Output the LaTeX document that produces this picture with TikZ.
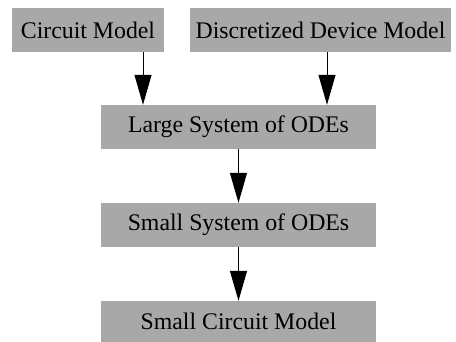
\documentclass[tikz,border=0pt]{standalone}
\usepackage{fontspec}
\setmainfont{Liberation Serif}
\usetikzlibrary{arrows.meta}
\definecolor{boxgray}{HTML}{A8A8A8}
\begin{document}
\begin{tikzpicture}[x=1pt,y=-1pt,
  stage/.style={rectangle, fill=boxgray, inner sep=0pt, minimum height=44pt,
    font=\fontsize{23.8}{26}\selectfont},
  flow/.style={line width=1pt, -{Triangle[length=30pt,width=17pt]}}]
  \useasboundingbox (0,0) rectangle (456,342);

  \node[stage, minimum width=152pt] (cm)  at (88,30)    {Circuit Model};
  \node[stage, minimum width=261pt] (ddm) at (320.5,30) {Discretized Device Model};
  \node[stage, minimum width=275pt] (lsys) at (238.5,127) {Large System of ODEs};
  \node[stage, minimum width=275pt] (ssys) at (238.5,225) {Small System of ODEs};
  \node[stage, minimum width=275pt, minimum height=41pt] (scm) at (238.5,321.5) {Small Circuit Model};

  \draw[flow] ([xshift=55pt]cm.south) -- ([xshift=55pt]cm.south |- lsys.north);
  \draw[flow] ([xshift=6.5pt]ddm.south) -- ([xshift=6.5pt]ddm.south |- lsys.north);
  \draw[flow] (lsys.south) -- (ssys.north);
  \draw[flow] (ssys.south) -- (scm.north);
\end{tikzpicture}
\end{document}
